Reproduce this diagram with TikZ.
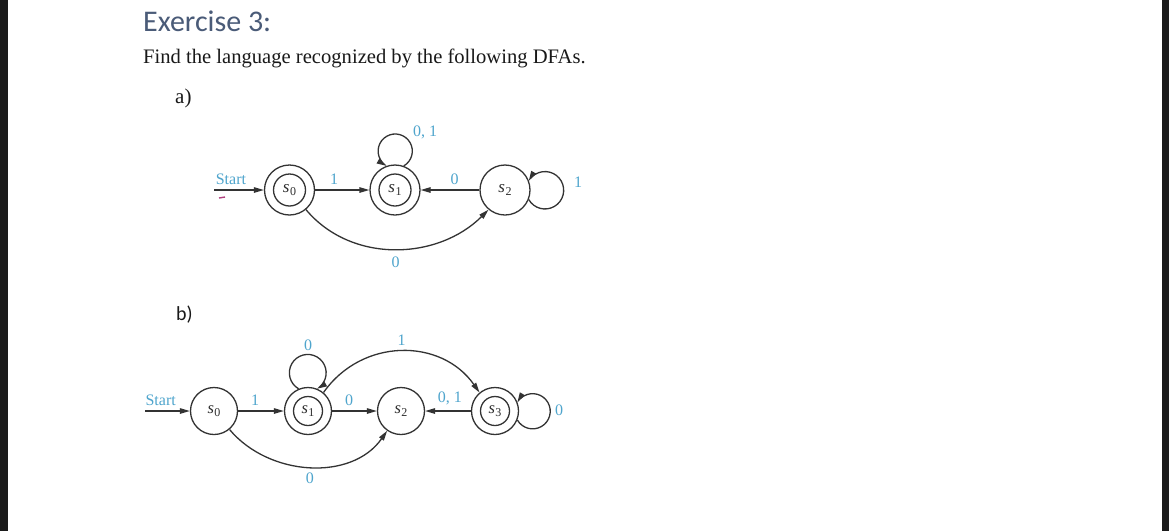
\documentclass[tikz,border=0pt]{standalone}
\usepackage{fontspec}
\setmainfont{Liberation Serif}
\newfontfamily\calibri{Carlito}
\usetikzlibrary{arrows.meta,calc}
\definecolor{labcol}{HTML}{4FA5CD}
\definecolor{linecol}{HTML}{333333}
\definecolor{statecol}{HTML}{2E2E2E}
\definecolor{titlecol}{HTML}{4A5B78}
\definecolor{barcol}{HTML}{1B1B1B}
\definecolor{markcol}{HTML}{B0407F}
\newcommand\sname[1]{\textit{s}\kern0.4pt\raisebox{-0.35ex}{\fontsize{12}{12}\selectfont #1}}
\begin{document}
\begin{tikzpicture}[x=1pt,y=1pt,
  every node/.style={inner sep=0pt},
  sta/.style={circle, draw=linecol, line width=1.3pt, minimum size=50pt, font=\fontsize{17}{17}\selectfont, text=statecol},
  acca/.style={sta, path picture={\draw[linecol, line width=1.3pt] (path picture bounding box.center) circle[radius=16pt];}},
  stb/.style={circle, draw=linecol, line width=1.3pt, minimum size=47pt, font=\fontsize{16.5}{16.5}\selectfont, text=statecol},
  accb/.style={stb, path picture={\draw[linecol, line width=1.3pt] (path picture bounding box.center) circle[radius=14.5pt];}},
  ed/.style={draw=linecol, line width=1.3pt, -{Triangle[length=10pt,width=5.5pt]}},
  lbl/.style={text=labcol, font=\fontsize{16}{16}\selectfont}]
\fill[white] (0,0) rectangle (1169,-531);
\useasboundingbox (0,0) rectangle (1169,-531);
\fill[barcol] (0,0) rectangle (8,-531);
\fill[barcol] (1162,0) rectangle (1169,-531);

% texts
\node[anchor=base west, text=titlecol, font=\calibri\fontsize{30}{30}\selectfont] (title) at (143,-31) {Exercise 3:};
\node[anchor=base west, text=black!90, font=\fontsize{20.6}{20.6}\selectfont] (body) at (143,-63) {Find the language recognized by the following DFAs.};
\node[anchor=base west, text=black!90, font=\fontsize{21}{21}\selectfont] (pa) at (175,-103) {a)};
\node[anchor=base west, text=black!90, font=\calibri\fontsize{20}{20}\selectfont] (pb) at (176,-320) {b)};

% ---------- DFA a ----------
\node[acca] (a0) at (289.5,-190) {\sname{0}};
\node[acca] (a1) at (395,-190) {\sname{1}};
\node[sta] (a2) at (505,-190) {\sname{2}};
\coordinate (aS) at (214,-190);
\draw[ed] (aS) -- node[lbl, above=5pt, pos=0.34] (aStart) {Start} (a0);
\draw[markcol, line width=1.4pt] (219,-198) -- (225,-197);
\draw[ed] (a0) -- node[lbl, above=5pt, pos=0.35] (la1) {1} (a1);
\draw[ed] (a2) -- node[lbl, above=5pt, pos=0.42] (la2) {0} (a1);
\draw[ed] (a0.-50) to[out=-50,in=-135] node[lbl, below=7pt] (la3) {0} (a2.-130);
\draw[ed] (a1.70) arc[start angle=-60,end angle=240,radius=17.1];
\node[lbl] (la4) at (425,-132) {0, 1};
\draw[ed] (a2.-22) arc[start angle=-150,end angle=150,radius=18.7];
\node[lbl] (la5) at (578,-182) {1};

% ---------- DFA b ----------
\node[stb] (b0) at (214,-411) {\sname{0}};
\node[accb] (b1) at (308,-411) {\sname{1}};
\node[stb] (b2) at (401,-411) {\sname{2}};
\node[accb] (b3) at (495,-411) {\sname{3}};
\coordinate (bS) at (145,-411);
\draw[ed] (bS) -- node[lbl, above=5pt, pos=0.35] (bStart) {Start} (b0);
\draw[ed] (b0) -- node[lbl, above=5pt, pos=0.37] (lb1) {1} (b1);
\draw[ed] (b1) -- node[lbl, above=5pt, pos=0.38] (lb2) {0} (b2);
\draw[ed] (b3) -- node[lbl, above=5pt, pos=0.46] (lb3) {0, 1} (b2);
\draw[ed] (b1.50) to[out=55,in=125,looseness=1.1] node[lbl, above=5pt] (lb4) {1} (b3.130);
\draw[ed] (b0.-50) to[out=-50,in=-125] node[lbl, below=5pt] (lb5) {0} (b2.-125);
\draw[ed] (b1.113) arc[start angle=240,end angle=-60,radius=18.4];
\node[lbl] (lb6) at (308,-345) {0};
\draw[ed] (b3.-22) arc[start angle=-150,end angle=150,radius=17.6];
\node[lbl] (lb7) at (559,-410) {0};
\end{tikzpicture}
\end{document}
